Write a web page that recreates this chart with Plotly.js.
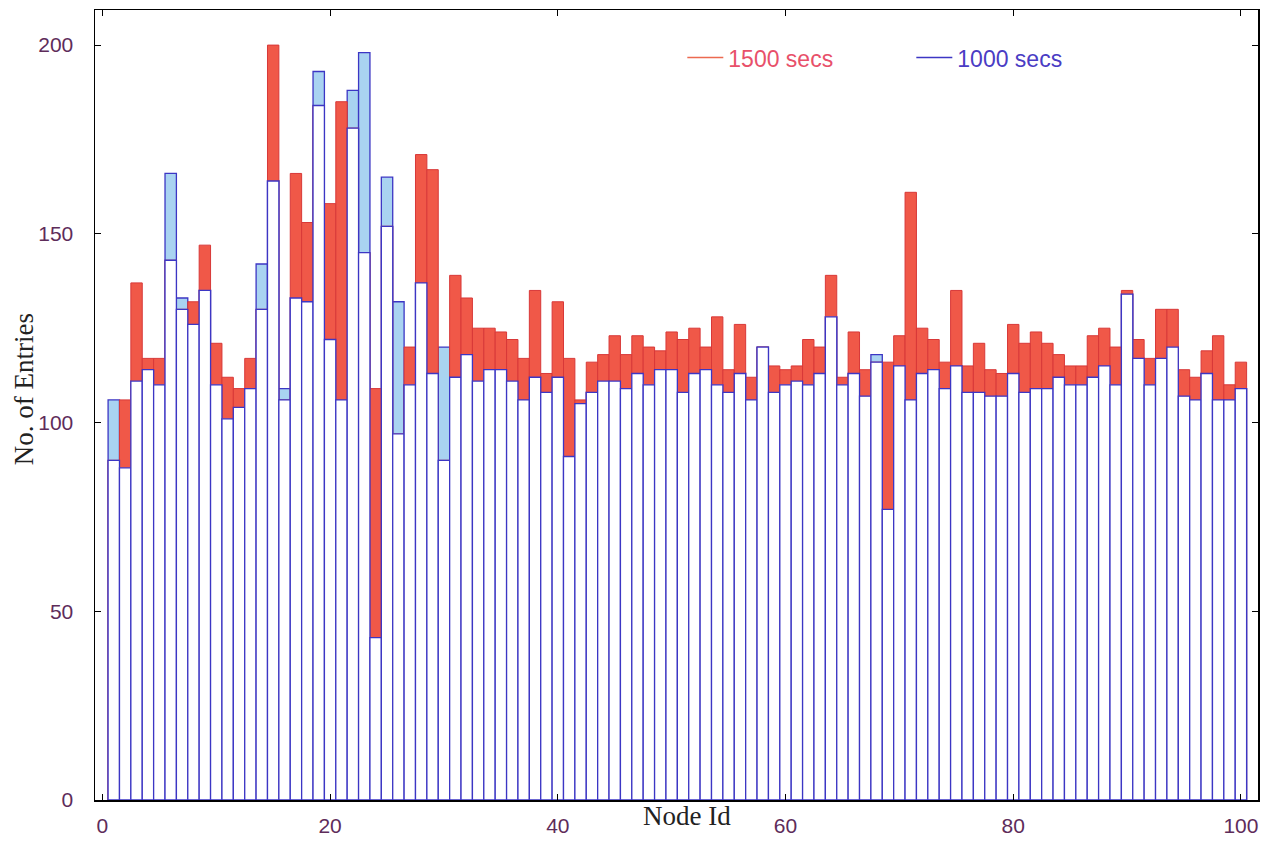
<!DOCTYPE html>
<html>
<head>
<meta charset="utf-8">
<script src="https://cdn.plot.ly/plotly-3.0.1.min.js"></script>
<style>html,body{margin:0;padding:0;background:#fff;}#chart{width:1276px;height:843px;}</style>
</head>
<body>
<div id="chart"></div>
<script>
// Node ids 1..100
const nodeIds = [];
for (let i = 1; i <= 100; i++) nodeIds.push(i);

// Entries at 1500 secs (red)
const entries1500 = [
  90,106,137,117,117,143,130,132,147,121,
  112,109,117,130,200,106,166,153,184,158,
  185,178,145,109,152,97,120,171,167,90,
  139,133,125,125,124,122,117,135,113,132,
  117,106,116,118,123,118,123,120,119,124,
  122,125,120,128,114,126,112,120,115,114,
  115,122,120,139,112,124,114,116,116,123,
  161,125,122,116,135,115,121,114,113,126,
  121,124,121,118,115,115,123,125,120,135,
  122,117,130,130,114,112,119,123,110,116
];

// Entries at 1000 secs (blue)
const entries1000 = [
  106,88,111,114,110,166,133,126,135,110,
  101,104,109,142,164,109,133,132,193,122,
  106,188,198,43,165,132,110,137,113,120,
  112,118,111,114,114,111,106,112,108,112,
  91,105,108,111,111,109,113,110,114,114,
  108,113,114,110,108,113,106,120,108,110,
  111,110,113,128,110,113,107,118,77,115,
  106,113,114,109,115,108,108,107,107,113,
  108,109,109,112,110,110,112,115,110,134,
  117,110,117,120,107,106,113,106,106,109
];

const legendNames = ['1500 secs', '1000 secs'];
const yTicks = [0, 50, 100, 150, 200];
const xTicks = [0, 20, 40, 60, 80, 100];

const RED = '#f05848';
const RED_LINE = '#d83838';
const LIGHTBLUE = '#a9d3f1';
const BLUE = '#3c36c4';

// common part of both series (drawn white)
const common = entries1500.map((v, i) => Math.min(v, entries1000[i]));

const traces = [
  { type: 'bar', x: nodeIds, y: entries1000, width: 1, showlegend: false, hoverinfo: 'skip',
    marker: { color: LIGHTBLUE, line: { color: BLUE, width: 1.3 } } },
  { type: 'bar', x: nodeIds, y: entries1500, width: 1, showlegend: false, hoverinfo: 'skip',
    marker: { color: RED, line: { color: RED_LINE, width: 1 } } },
  { type: 'bar', x: nodeIds, y: common, width: 1, showlegend: false, hoverinfo: 'skip',
    marker: { color: '#ffffff', line: { color: BLUE, width: 1.3 } } },
  { type: 'scatter', mode: 'lines', x: [null], y: [null], name: '<span style="color:#e8506a">' + legendNames[0] + '</span>',
    line: { color: '#ec6a50', width: 1.5 } },
  { type: 'scatter', mode: 'lines', x: [null], y: [null], name: '<span style="color:#4a3cc4">' + legendNames[1] + '</span>',
    line: { color: '#3c36c4', width: 1.5 } }
];

const layout = {
  width: 1276, height: 843,
  margin: { l: 95, r: 18, t: 10, b: 43 },
  paper_bgcolor: '#ffffff', plot_bgcolor: '#ffffff',
  barmode: 'overlay', bargap: 0,
  font: { family: 'Liberation Sans, Arial, sans-serif', size: 18, color: '#5e2c5a' },
  xaxis: {
    range: [-0.65, 101.5], tickvals: xTicks, ticktext: xTicks.map(String),
    ticks: 'inside', ticklen: 6, tickcolor: '#000', tickwidth: 1,
    showline: true, linecolor: '#000', linewidth: 1.5, mirror: 'ticks',
    showgrid: false, zeroline: false, ticklabelstandoff: 6,
    tickfont: { family: 'Liberation Sans, Arial, sans-serif', size: 21, color: '#5e2c5a' }
  },
  yaxis: {
    range: [0, 209.3], tickvals: yTicks, ticktext: yTicks.map(String),
    ticks: 'inside', ticklen: 6, tickcolor: '#000', tickwidth: 1,
    showline: true, linecolor: '#000', linewidth: 1.5, mirror: 'ticks',
    showgrid: false, zeroline: false, ticklabelstandoff: 16,
    tickfont: { family: 'Liberation Sans, Arial, sans-serif', size: 21, color: '#5e2c5a' }
  },
  legend: {
    orientation: 'h', x: 0.505, y: 0.967, xanchor: 'left', yanchor: 'top',
    bgcolor: 'rgba(0,0,0,0)', font: { family: 'Liberation Sans, Arial, sans-serif', size: 23 },
    itemwidth: 36, entrywidth: 178, traceorder: 'normal'
  },
  annotations: [
    { text: 'No. of Entries', xref: 'paper', yref: 'paper', x: -0.061, y: 0.52,
      textangle: -90, showarrow: false, xanchor: 'center', yanchor: 'middle',
      font: { family: 'Liberation Serif, Times New Roman, serif', size: 27, color: '#222' } },
    { text: 'Node Id', xref: 'paper', yref: 'paper', x: 0.509, y: -0.02,
      showarrow: false, xanchor: 'center', yanchor: 'middle',
      font: { family: 'Liberation Serif, Times New Roman, serif', size: 27, color: '#222' } }
  ]
};

Plotly.newPlot('chart', traces, layout, { displayModeBar: false, staticPlot: true });
</script>
</body>
</html>
